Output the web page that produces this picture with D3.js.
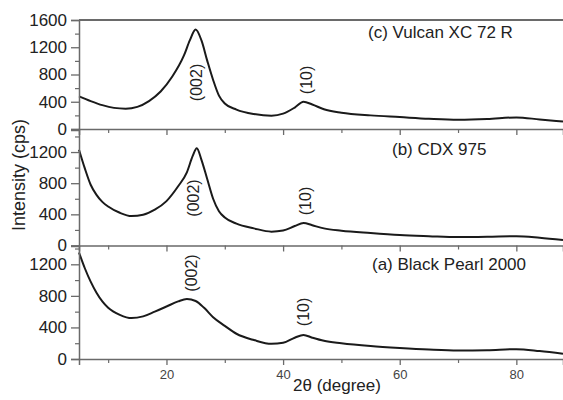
<!DOCTYPE html>
<html>
<head>
<meta charset="utf-8">
<script src="https://cdn.jsdelivr.net/npm/d3@7"></script>
<style>
  body { margin: 0; background: #fff; }
  svg { font-family: "Liberation Sans", Arial, sans-serif; }
</style>
</head>
<body>
<svg id="chart"></svg>
<script>
// 2theta (degree) and intensity (cps)
const vulcanTheta = [5, 7, 9, 11, 13, 15, 17, 19, 21, 23, 24, 25, 26, 27, 28, 29, 30, 32, 35, 38, 40, 42, 43.5, 45, 47, 50, 55, 60, 65, 70, 75, 80, 84, 88];
const vulcanCps   = [480, 410, 350, 310, 298, 325, 410, 550, 770, 1080, 1300, 1460, 1300, 1000, 720, 490, 375, 285, 220, 195, 225, 315, 400, 360, 290, 240, 200, 175, 150, 135, 145, 170, 140, 110];

const cdxTheta = [5, 6, 7, 8, 9, 10, 12, 14, 16, 18, 20, 22, 23.5, 24.5, 25.2, 26, 27, 28, 29, 30, 32, 35, 38, 40, 42, 43.5, 45, 47, 50, 55, 60, 65, 70, 75, 80, 84, 88];
const cdxCps   = [1230, 990, 780, 650, 560, 500, 420, 378, 395, 460, 570, 760, 940, 1150, 1250, 1100, 850, 600, 440, 360, 280, 220, 178, 192, 250, 290, 260, 220, 190, 160, 135, 120, 108, 112, 120, 100, 70];

const pearlTheta = [5, 6, 7, 8, 9, 10, 12, 14, 16, 18, 20, 22, 23.5, 25, 26.5, 28, 30, 32, 35, 38, 40, 42, 43.5, 45, 47, 50, 55, 60, 65, 70, 75, 80, 84, 88];
const pearlCps   = [1350, 1150, 980, 840, 730, 650, 560, 518, 540, 600, 665, 730, 760, 735, 645, 530, 420, 320, 240, 192, 205, 270, 305, 270, 230, 200, 165, 140, 120, 108, 112, 125, 100, 65];

const panelNames = ["(c) Vulcan XC 72 R", "(b) CDX 975", "(a) Black Pearl 2000"];
const panelMax = [1600, 1483, 1432];
const panelTicks = [[0, 400, 800, 1200, 1600], [0, 400, 800, 1200], [0, 400, 800, 1200]];
// peak label anchor points [2theta, cps]
const peak002 = [[25.2, 683], [24.8, 610], [24.3, 1090]];
const peak10 = [[44.05, 720], [43.9, 571], [43.6, 596]];

const xTicks = [20, 40, 60, 80];
const xMinor = [10, 30, 50, 70];

const W = 563, H = 400;
const left = 79, right = 563;
const panelTop = [20, 130, 246];
const panelBottom = [129, 245.5, 359];

const svg = d3.select("#chart").attr("width", W).attr("height", H);

const x = d3.scaleLinear().domain([5, 88]).range([left, right]);

const series = [
  d3.zip(vulcanTheta, vulcanCps),
  d3.zip(cdxTheta, cdxCps),
  d3.zip(pearlTheta, pearlCps)
];

const axisColor = "#6a6a6a";

series.forEach((data, i) => {
  const y = d3.scaleLinear().domain([0, panelMax[i]]).range([panelBottom[i], panelTop[i]]);
  const g = svg.append("g");

  // curve
  const line = d3.line()
    .x(d => x(d[0]))
    .y(d => y(d[1]))
    .curve(d3.curveMonotoneX);

  g.append("path")
    .datum(data)
    .attr("fill", "none")
    .attr("stroke", "#1a1a1a")
    .attr("stroke-width", 2)
    .attr("stroke-linejoin", "round")
    .attr("d", line);

  // left axis
  const yAxis = d3.axisLeft(y).tickValues(panelTicks[i]).tickSize(8).tickPadding(4).tickFormat(d3.format("d"));
  const ya = g.append("g").attr("transform", `translate(${left},0)`).call(yAxis);
  ya.select(".domain").attr("stroke", axisColor).attr("stroke-width", 1.5);
  ya.selectAll(".tick line").attr("stroke", axisColor).attr("stroke-width", 1.3);
  ya.selectAll("text").attr("font-size", 17).attr("fill", "#222")
    .attr("font-family", "'Liberation Sans', Arial, sans-serif");

  const yMinor = d3.range(200, panelMax[i], 400);
  g.append("g").attr("transform", `translate(${left},0)`)
    .call(d3.axisLeft(y).tickValues(yMinor).tickSize(4).tickFormat(""))
    .call(s => s.select(".domain").remove())
    .selectAll(".tick line").attr("stroke", axisColor).attr("stroke-width", 1.2);

  // bottom axis of panel
  const xa = g.append("g").attr("transform", `translate(0,${panelBottom[i]})`)
    .call(d3.axisBottom(x).tickValues(xTicks).tickSize(6).tickPadding(5)
      .tickFormat(i === 2 ? d3.format("d") : ""));
  xa.select(".domain").attr("stroke", axisColor).attr("stroke-width", 1.5);
  xa.selectAll(".tick line").attr("stroke", axisColor).attr("stroke-width", 1.3);
  xa.selectAll("text").attr("font-size", 13).attr("fill", "#444")
    .attr("font-family", "'Liberation Sans', Arial, sans-serif");

  g.append("g").attr("transform", `translate(0,${panelBottom[i]})`)
    .call(d3.axisBottom(x).tickValues(xMinor).tickSize(4).tickFormat(""))
    .call(s => s.select(".domain").remove())
    .selectAll(".tick line").attr("stroke", axisColor).attr("stroke-width", 1.2);

  // panel label
  g.append("text")
    .attr("x", [368, 392, 372][i])
    .attr("y", [38, 155, 270][i])
    .attr("font-size", 17)
    .attr("fill", "#222")
    .text(panelNames[i]);

  // peak labels
  [[peak002[i], "(002)"], [peak10[i], "(10)"]].forEach(([p, t]) => {
    g.append("text")
      .attr("transform", `translate(${x(p[0]) + 5},${y(p[1])}) rotate(-90)`)
      .attr("text-anchor", "middle")
      .attr("font-size", 16)
      .attr("fill", "#222")
      .text(t);
  });
});

// top frame line
svg.append("line")
  .attr("x1", left).attr("x2", right)
  .attr("y1", panelTop[0]).attr("y2", panelTop[0])
  .attr("stroke", axisColor).attr("stroke-width", 2);

// axis titles
svg.append("text")
  .attr("transform", "translate(25,175) rotate(-90)")
  .attr("text-anchor", "middle")
  .attr("font-size", 18)
  .attr("fill", "#222")
  .text("Intensity (cps)");

svg.append("text")
  .attr("x", 337)
  .attr("y", 391)
  .attr("text-anchor", "middle")
  .attr("font-size", 17)
  .attr("fill", "#222")
  .text("2θ (degree)");
</script>
</body>
</html>
